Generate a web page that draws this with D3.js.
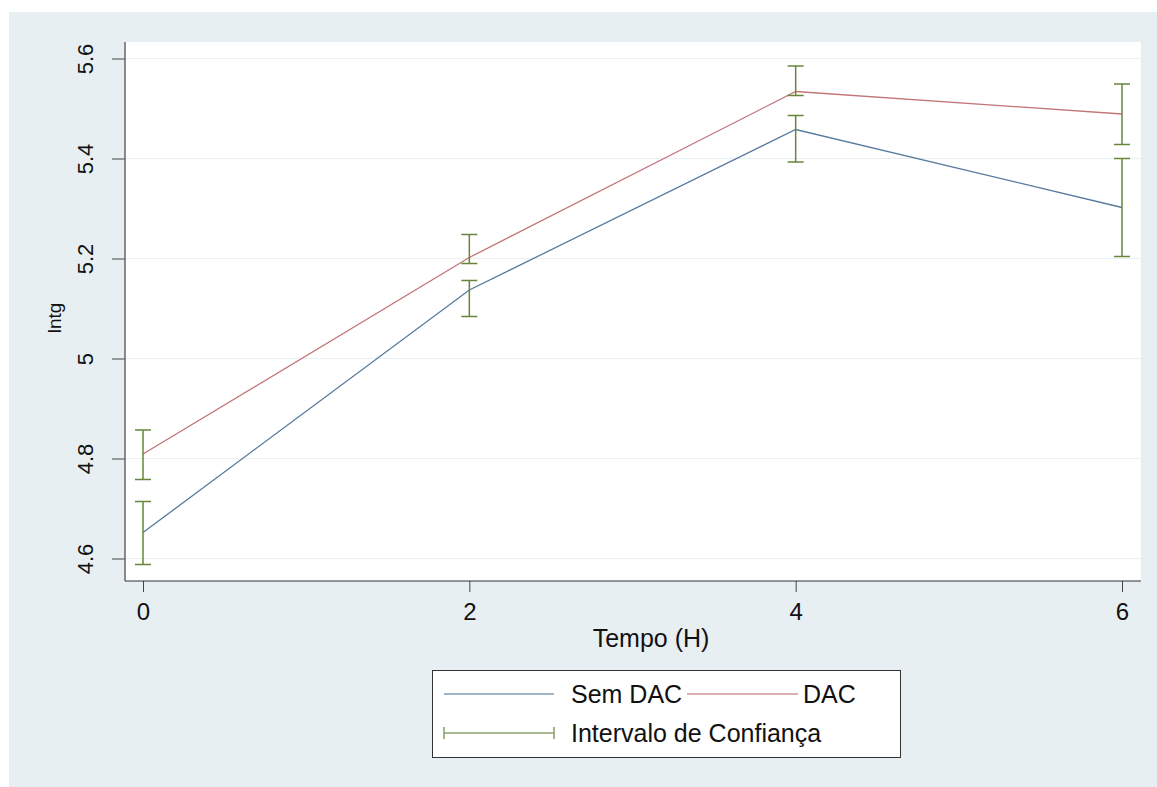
<!DOCTYPE html>
<html>
<head>
<meta charset="utf-8">
<script src="https://cdn.jsdelivr.net/npm/d3@7"></script>
<style>
  body { margin: 0; background: #fff; }
  text { font-family: "Liberation Sans", Arial, sans-serif; fill: #111; }
</style>
</head>
<body>
<svg id="chart" width="1157" height="787"></svg>
<script>
// time points (hours)
var tempo = [0, 2, 4, 6]

// Sem DAC: mean and confidence interval
var semDac = [4.652, 5.137, 5.458, 5.302]
var semDacLo = [4.588, 5.084, 5.393, 5.204]
var semDacHi = [4.714, 5.156, 5.486, 5.400]

// DAC: mean and confidence interval
var dac = [4.809, 5.202, 5.534, 5.489]
var dacLo = [4.758, 5.190, 5.526, 5.428]
var dacHi = [4.857, 5.248, 5.585, 5.549]

var yTicks = [4.6, 4.8, 5, 5.2, 5.4, 5.6]
var xTicks = [0, 2, 4, 6]

var colors = { sem: '#56799f', dac: '#c27477', ci: '#66863a' }

var svg = d3.select('#chart')

// outer background
svg.append('rect')
  .attr('x', 9).attr('y', 12)
  .attr('width', 1148).attr('height', 775)
  .attr('fill', '#e8eff2')

var plot = { left: 125, right: 1141, top: 42, bottom: 581 }

svg.append('rect')
  .attr('x', plot.left).attr('y', plot.top)
  .attr('width', plot.right - plot.left).attr('height', plot.bottom - plot.top)
  .attr('fill', '#fff')

var x = d3.scaleLinear().domain([0, 6]).range([143, 1122])
var y = d3.scaleLinear().domain([4.6, 5.6]).range([558.5, 58.5])

// gridlines
svg.append('g')
  .selectAll('line')
  .data(yTicks)
  .join('line')
  .attr('x1', plot.left).attr('x2', plot.right)
  .attr('y1', d => y(d)).attr('y2', d => y(d))
  .attr('stroke', '#eaf0f1')
  .attr('stroke-width', 1)

// y axis
var yAxis = d3.axisLeft(y)
  .tickValues(yTicks)
  .tickFormat(d => String(+d.toFixed(1)))
  .tickSizeOuter(0)
  .tickSize(13)
var gy = svg.append('g')
  .attr('transform', `translate(${plot.left},0)`)
  .call(yAxis)
gy.select('.domain').remove()
gy.selectAll('.tick line').attr('stroke', '#444')
gy.selectAll('.tick text')
  .attr('x', 0).attr('dy', 0)
  .attr('transform', 'translate(-32,0) rotate(-90)')
  .attr('text-anchor', 'middle')
  .style('font-size', '22px')
  .style('font-family', '"Liberation Sans", Arial, sans-serif')
  .attr('fill', '#111')
svg.append('line')
  .attr('x1', plot.left).attr('x2', plot.left)
  .attr('y1', plot.top).attr('y2', plot.bottom)
  .attr('stroke', '#666').attr('stroke-width', 1.5)

// x axis
var xAxis = d3.axisBottom(x)
  .tickValues(xTicks)
  .tickFormat(d3.format('d'))
  .tickSizeOuter(0)
  .tickSize(11)
var gx = svg.append('g')
  .attr('transform', `translate(0,${plot.bottom})`)
  .call(xAxis)
gx.select('.domain').remove()
gx.selectAll('.tick line').attr('stroke', '#444')
gx.selectAll('.tick text')
  .attr('y', 22).attr('dy', '0.71em')
  .style('font-size', '24px')
  .style('font-family', '"Liberation Sans", Arial, sans-serif')
  .attr('fill', '#111')
svg.append('line')
  .attr('x1', plot.left).attr('x2', plot.right)
  .attr('y1', plot.bottom).attr('y2', plot.bottom)
  .attr('stroke', '#333').attr('stroke-width', 1.2)

// axis titles
svg.append('text')
  .attr('x', 651).attr('y', 647)
  .attr('text-anchor', 'middle')
  .style('font-size', '25px')
  .text('Tempo (H)')

svg.append('text')
  .attr('transform', 'translate(61,318) rotate(-90)')
  .attr('text-anchor', 'middle')
  .style('font-size', '19px')
  .text('lntg')

// lines
var line = d3.line()
  .x((d, i) => x(tempo[i]))
  .y(d => y(d))

svg.append('path')
  .datum(semDac)
  .attr('d', line)
  .attr('fill', 'none')
  .attr('stroke', colors.sem)
  .attr('stroke-width', 1.3)

svg.append('path')
  .datum(dac)
  .attr('d', line)
  .attr('fill', 'none')
  .attr('stroke', colors.dac)
  .attr('stroke-width', 1.3)

// confidence intervals
function drawCI (lo, hi) {
  var g = svg.append('g')
    .selectAll('g')
    .data(tempo.map((t, i) => ({ t: t, lo: lo[i], hi: hi[i] })))
    .join('g')
    .attr('stroke', colors.ci)
    .attr('stroke-width', 1.5)
  g.append('line')
    .attr('x1', d => x(d.t)).attr('x2', d => x(d.t))
    .attr('y1', d => y(d.lo)).attr('y2', d => y(d.hi))
  g.append('line')
    .attr('x1', d => x(d.t) - 8).attr('x2', d => x(d.t) + 8)
    .attr('y1', d => y(d.lo)).attr('y2', d => y(d.lo))
  g.append('line')
    .attr('x1', d => x(d.t) - 8).attr('x2', d => x(d.t) + 8)
    .attr('y1', d => y(d.hi)).attr('y2', d => y(d.hi))
}
drawCI(semDacLo, semDacHi)
drawCI(dacLo, dacHi)

// legend
var lg = svg.append('g')
lg.append('rect')
  .attr('x', 432.5).attr('y', 670.5)
  .attr('width', 468).attr('height', 87)
  .attr('fill', '#fff')
  .attr('stroke', '#333').attr('stroke-width', 1)

lg.append('line')
  .attr('x1', 444).attr('x2', 554).attr('y1', 694).attr('y2', 694)
  .attr('stroke', colors.sem).attr('stroke-width', 1.6).attr('opacity', 0.75)
lg.append('text').attr('x', 571).attr('y', 703)
  .style('font-size', '25px').text('Sem DAC')

lg.append('line')
  .attr('x1', 687).attr('x2', 798).attr('y1', 694).attr('y2', 694)
  .attr('stroke', colors.dac).attr('stroke-width', 1.6).attr('opacity', 0.75)
lg.append('text').attr('x', 803).attr('y', 703)
  .style('font-size', '25px').text('DAC')

var ci = lg.append('g').attr('stroke', colors.ci).attr('stroke-width', 1.6).attr('opacity', 0.75)
ci.append('line').attr('x1', 444).attr('x2', 554).attr('y1', 733).attr('y2', 733)
ci.append('line').attr('x1', 444).attr('x2', 444).attr('y1', 727).attr('y2', 739)
ci.append('line').attr('x1', 554).attr('x2', 554).attr('y1', 727).attr('y2', 739)
lg.append('text').attr('x', 571).attr('y', 742)
  .style('font-size', '25px').text('Intervalo de Confiança')
</script>
</body>
</html>
